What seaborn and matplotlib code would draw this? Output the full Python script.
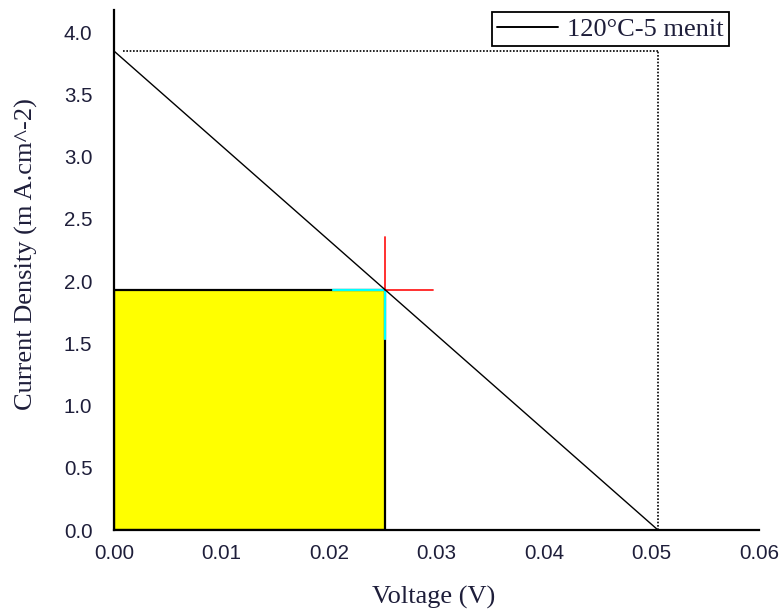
import numpy as np
import pandas as pd
import seaborn as sns
import matplotlib.pyplot as plt
from matplotlib.patches import Rectangle

# J-V data
voltage = [0.0, 0.0506]
current = [3.85, 0.0]
series_label = '120°C-5 menit'

v_oc = 0.0506
j_sc = 3.85
v_mp = 0.0252
j_mp = 1.932

x_ticks = [0.00, 0.01, 0.02, 0.03, 0.04, 0.05, 0.06]
y_ticks = [0.0, 0.5, 1.0, 1.5, 2.0, 2.5, 3.0, 3.5, 4.0]

df = pd.DataFrame({'Voltage': voltage, 'Current': current})

sns.set_style('white')
plt.rcParams['font.family'] = ['Liberation Sans', 'DejaVu Sans']

fig = plt.figure(figsize=(7.82, 6.12), dpi=100)
ax = fig.add_axes([114 / 782, 1 - 530 / 612, 645 / 782, 520 / 612])

# max power rectangle
ax.add_patch(Rectangle((0, 0), v_mp, j_mp, facecolor='#ffff00',
                       edgecolor='black', linewidth=1.6, zorder=1))
# cyan corner marks
ax.plot([v_mp - 0.0048, v_mp], [j_mp, j_mp], color='#00ffff', lw=1.6, zorder=2)
ax.plot([v_mp, v_mp], [j_mp - 0.4, j_mp], color='#00ffff', lw=1.6, zorder=2)
# red cross at max power point
ax.plot([v_mp, v_mp + 0.0045], [j_mp, j_mp], color='#ff2020', lw=1.3, zorder=3)
ax.plot([v_mp, v_mp], [j_mp, j_mp + 0.42], color='#ff2020', lw=1.3, zorder=3)

# dotted guides for Isc and Voc
ax.plot([0.0008, v_oc], [j_sc, j_sc], color='black', lw=1.2,
        linestyle=(0, (1, 1)), zorder=2)
ax.plot([v_oc, v_oc], [0, j_sc], color='black', lw=1.2,
        linestyle=(0, (1, 1)), zorder=2)

sns.lineplot(data=df, x='Voltage', y='Current', color='black', lw=1.0,
             label=series_label, ax=ax, zorder=4)

ax.set_xlim(0, 0.06)
ax.set_ylim(0, 4.18)
ax.set_xticks(x_ticks)
ax.set_xticklabels([f'{t:.2f}' for t in x_ticks])
ax.set_yticks(y_ticks)
ax.set_yticklabels([f'{t:.1f}' for t in y_ticks])
ax.tick_params(axis='x', length=0, pad=10, labelsize=14.8, labelcolor='#1e1e3a')
ax.tick_params(axis='y', length=0, pad=15.5, labelsize=14.8, labelcolor='#1e1e3a')

sns.despine(ax=ax)
for s in ['left', 'bottom']:
    ax.spines[s].set_color('black')
    ax.spines[s].set_linewidth(1.6)

ax.set_xlabel('Voltage (V)', family=['Liberation Serif'], fontsize=19, color='#1e1e3a')
ax.set_ylabel('Current Density (m A.cm^-2)', family=['Liberation Serif'], fontsize=19,
              color='#1e1e3a')
ax.xaxis.label.set_va('center')
ax.yaxis.label.set_va('center')
ax.xaxis.set_label_coords((433.5 - 114) / 645, (530 - 597) / 520)
ax.yaxis.set_label_coords((26 - 114) / 645, (530 - 254) / 520)

leg = ax.legend(loc='upper right', bbox_to_anchor=(729 / 782, 1 - 12 / 612),
                bbox_transform=fig.transFigure, borderaxespad=0,
                prop={'family': 'Liberation Serif', 'size': 19},
                frameon=True, fancybox=False, framealpha=1,
                handlelength=2.3, handletextpad=0.35, borderpad=0.2)
leg.get_frame().set_edgecolor('black')
leg.get_frame().set_linewidth(1.3)
for h in leg.get_lines():
    h.set_linewidth(1.4)
for t in leg.get_texts():
    t.set_color('#1e1e3a')

fig.savefig('out.png', dpi=100)
